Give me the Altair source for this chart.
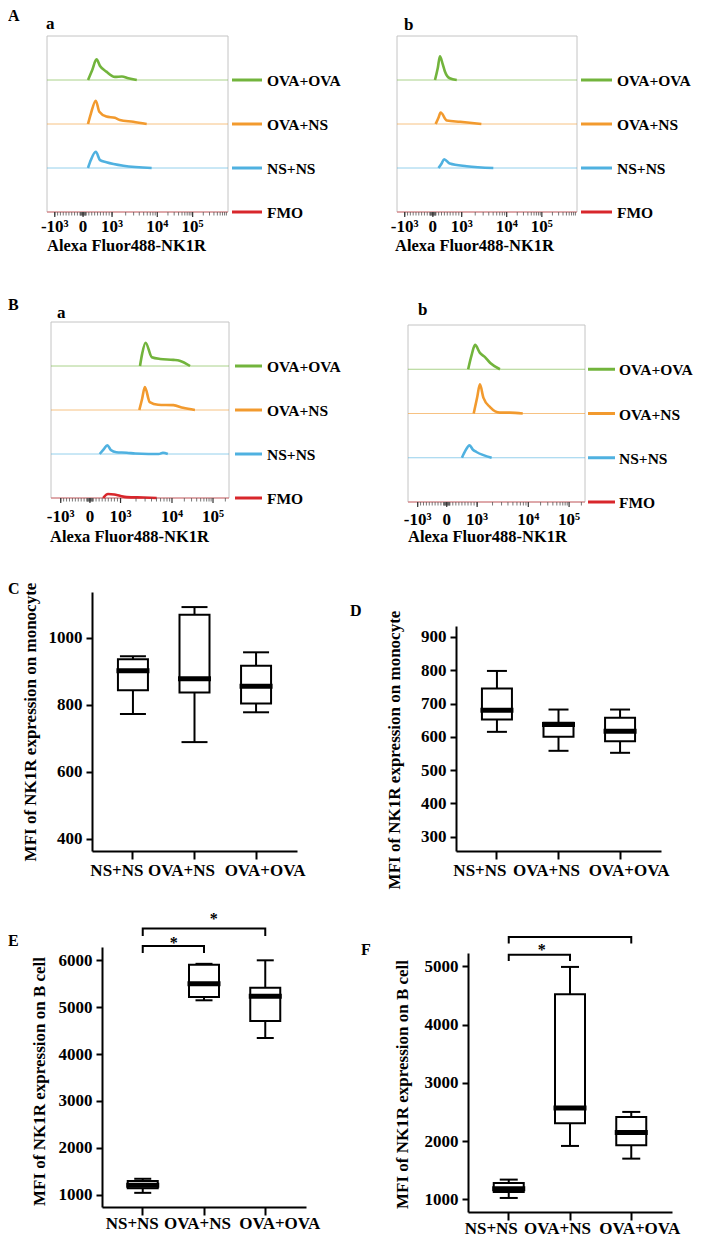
import math
import altair as alt
import pandas as pd

FONT = "Liberation Serif"

# ---------------- data ----------------
GROUPS = ["NS+NS", "OVA+NS", "OVA+OVA"]
HIST_GROUPS = ["OVA+OVA", "OVA+NS", "NS+NS", "FMO"]
HIST_COLORS = ["#72b43c", "#f29a2e", "#4fb1e0", "#d8262b"]
HIST_OFFSETS = [300, 200, 100, 0]

TICK_LABELS = ["-10³", "0", "10³", "10⁴", "10⁵"]
A_TICK_POS = [11, 51, 92, 156, 206]
B_TICK_POS = [14, 56, 100, 174, 233]
MINOR_VALUES = (list(range(-1000, 1001, 100)) + list(range(-100, 101, 20))
                + [m * 10 ** e for e in (3, 4, 5) for m in range(2, 10)])

# histogram curves (channel, count above the row baseline)
AA_OVAOVA_X = [58, 64, 70, 75, 84, 96, 106, 115, 127]
AA_OVAOVA_H = [0, 23, 47, 32, 19, 7, 8, 4, 0]
AA_OVANS_X = [58, 62, 69, 74, 84, 96, 103, 122, 141]
AA_OVANS_H = [0, 23, 53, 28, 17, 14, 9, 5, 0]
AA_NSNS_X = [58, 62, 69, 75, 84, 108, 148]
AA_NSNS_H = [0, 18, 37, 18, 13, 5, 0]

AB_OVAOVA_X = [54, 58, 61, 65, 68, 75, 85]
AB_OVAOVA_H = [0, 27, 54, 36, 20, 4, 0]
AB_OVANS_X = [55, 59, 62, 71, 90, 120]
AB_OVANS_H = [0, 14, 26, 8, 5, 0]
AB_NSNS_X = [59, 63, 67, 75, 99, 137]
AB_NSNS_H = [0, 9, 20, 10, 4, 0]

BA_OVAOVA_X = [128, 131, 136, 145, 157, 176, 185, 200]
BA_OVAOVA_H = [0, 27, 53, 20, 16, 14, 12, 0]
BA_OVANS_X = [127, 131, 135, 142, 154, 176, 190, 207]
BA_OVANS_H = [0, 25, 52, 18, 12, 11, 5, 0]
BA_NSNS_X = [70, 76, 81, 86, 94, 109, 121, 140, 155, 161, 168]
BA_NSNS_H = [0, 11, 20, 9, 4, 3, 1, 0, 0, 3, 0]
BA_FMO_X = [75, 82, 91, 99, 109, 133, 152]
BA_FMO_H = [0, 9, 8, 5, 2, 1, 0]

BB_OVAOVA_X = [87, 92, 97, 104, 111, 119, 133]
BB_OVAOVA_H = [0, 32, 55, 37, 28, 14, 0]
BB_OVANS_X = [95, 100, 104, 109, 119, 133, 147, 166]
BB_OVANS_H = [0, 36, 66, 36, 14, 2, 2, 0]
BB_NSNS_X = [78, 83, 89, 94, 99, 121]
BB_NSNS_H = [0, 16, 28, 18, 13, 0]

# box plot summaries per group
C_MIN = [772, 688, 777]
C_Q1 = [843, 836, 803]
C_MED = [901, 877, 855]
C_Q3 = [935, 1068, 916]
C_MAX = [944, 1091, 956]

D_MIN = [615, 558, 552]
D_Q1 = [652, 600, 587]
D_MED = [680, 637, 617]
D_Q3 = [745, 642, 657]
D_MAX = [798, 682, 682]

E_MIN = [1040, 5147, 4343]
E_Q1 = [1140, 5218, 4706]
E_MED = [1200, 5502, 5232]
E_Q3 = [1290, 5908, 5417]
E_MAX = [1340, 5925, 6000]

F_MIN = [1023, 1916, 1698]
F_Q1 = [1126, 2305, 1927]
F_MED = [1183, 2568, 2145]
F_Q3 = [1281, 4519, 2414]
F_MAX = [1338, 4989, 2500]

# significance brackets (from, to, top level, leg end) and stars (level, x shift)
E_BRACKETS = [("NS+NS", "OVA+NS", 6306, 6156), ("NS+NS", "OVA+OVA", 6676, 6519)]
E_STARS = [(6420, 31), (6917, 71)]
F_BRACKETS = [("NS+NS", "OVA+NS", 5200, 5092), ("NS+NS", "OVA+OVA", 5504, 5389)]
F_STARS = [(5320, 33)]


# ---------------- helpers ----------------
def biex_positions(values, P):
    out = []
    for v in values:
        if v <= 0:
            p = P[1] + (v / 1000.0) * (P[1] - P[0])
        elif v <= 1000:
            p = P[1] + (v / 1000.0) * (P[2] - P[1])
        else:
            k = math.log10(v)
            e = int(math.floor(k + 1e-9))
            frac = k - e
            i = e - 1
            if i + 1 < len(P):
                p = P[i] + frac * (P[i + 1] - P[i])
            else:
                p = P[-1] + (k - 5) * (P[-1] - P[-2])
        out.append(p)
    return out


def label_layer(text, x, y, size, baseline="alphabetic", align="left", angle=0):
    kw = dict(align=align, baseline=baseline, font=FONT, fontSize=size,
              fontWeight="bold", color="black")
    if angle:
        kw["angle"] = angle
    return alt.Chart(alt.Data(values=[{"t": text}])).mark_text(**kw).encode(
        x=alt.value(x), y=alt.value(y), text="t:N")


def hist_panel(cw, ch, x0, y0, w, h, curves, tick_pos, label_dy, title_xy, leg,
               leg_font, letters):
    xs = alt.Scale(domain=[0, 256], range=[x0, x0 + w], nice=False, zero=False)
    ys = alt.Scale(domain=[0, 400], range=[y0 + h, y0], nice=False, zero=False)
    cs = alt.Scale(domain=HIST_GROUPS, range=HIST_COLORS)
    C = alt.Color("g:N", scale=cs, legend=None)
    Yoff = alt.Y("off:Q", scale=ys, axis=None)
    gdf = pd.DataFrame({"g": HIST_GROUPS, "off": HIST_OFFSETS,
                        "a": [0] * 4, "b": [256] * 4})
    layers = []
    # frame
    layers.append(alt.Chart(pd.DataFrame({"a": [0], "b": [256], "c": [0], "d": [400]}))
                  .mark_rect(fillOpacity=0, stroke="#c4c4c4", strokeWidth=1)
                  .encode(x=alt.X("a:Q", scale=xs, axis=None), x2="b:Q",
                          y=alt.Y("c:Q", scale=ys, axis=None), y2="d:Q"))
    # baselines
    layers.append(alt.Chart(gdf).mark_rule(strokeWidth=1, opacity=0.6).encode(
        y=Yoff, x=alt.X("a:Q", scale=xs, axis=None), x2="b:Q", color=C))
    rows = []
    for g, X, H in curves:
        off = HIST_OFFSETS[HIST_GROUPS.index(g)]
        for i, (xv, hv) in enumerate(zip(X, H)):
            rows.append({"g": g, "x": xv, "y": off + hv, "i": i})
    layers.append(alt.Chart(pd.DataFrame(rows)).mark_line(
        strokeWidth=2.6, interpolate="monotone", strokeJoin="round").encode(
        x=alt.X("x:Q", scale=xs, axis=None), y=alt.Y("y:Q", scale=ys, axis=None),
        color=C, detail="g:N", order="i:Q"))
    # legend
    right = x0 + w
    layers.append(alt.Chart(gdf).mark_rule(strokeWidth=3).encode(
        y=Yoff, x=alt.value(right + leg[0]), x2=alt.value(right + leg[1]), color=C))
    layers.append(alt.Chart(gdf).mark_text(
        align="left", baseline="middle", dy=1, font=FONT, fontSize=leg_font,
        fontWeight="bold", color="black").encode(
        y=Yoff, x=alt.value(right + leg[2]), text="g:N"))
    # ticks and labels
    bottom = y0 + h
    minor = [p for p in biex_positions(MINOR_VALUES, tick_pos) if 0 < p < 256]
    layers.append(alt.Chart(pd.DataFrame({"p": minor})).mark_rule(
        color="#555", strokeWidth=0.8).encode(
        x=alt.X("p:Q", scale=xs, axis=None), y=alt.value(bottom), y2=alt.value(bottom + 3.5)))
    mdf = pd.DataFrame({"p": tick_pos, "t": TICK_LABELS})
    layers.append(alt.Chart(mdf).mark_rule(color="#333", strokeWidth=1.2).encode(
        x=alt.X("p:Q", scale=xs, axis=None), y=alt.value(bottom), y2=alt.value(bottom + 5)))
    layers.append(alt.Chart(mdf).mark_text(
        align="center", baseline="alphabetic", font=FONT, fontSize=17,
        fontWeight="bold", color="black").encode(
        x=alt.X("p:Q", scale=xs, axis=None), y=alt.value(bottom + label_dy), text="t:N"))
    layers.append(label_layer("Alexa Fluor488-NK1R", title_xy[0], title_xy[1], 16.5))
    for (t, lx, ly, size, bl) in letters:
        layers.append(label_layer(t, lx, ly, size, bl))
    return alt.layer(*layers).properties(width=cw, height=ch)


def box_panel(cw, ch, x0, y0, w, h, ydom, yticks, ytitle, mins, q1s, meds, q3s, maxs,
              cap, title_xy, ldx, label_dy, letter, brackets=(), stars=()):
    df = pd.DataFrame({"g": GROUPS, "mn": mins, "q1": q1s, "med": meds,
                       "q3": q3s, "mx": maxs})
    xsc = alt.Scale(domain=GROUPS, range=[x0, x0 + w], paddingInner=0, paddingOuter=0.165)
    xax = alt.Axis(labels=False, title=None, tickSize=8, tickWidth=2, tickColor="black",
                   domainColor="black", domainWidth=2, grid=False,
                   offset=(y0 + h) - ch)
    ysc = alt.Scale(domain=ydom, range=[y0 + h, y0], nice=False, zero=False)
    yax = alt.Axis(values=yticks, format="d", title=None, grid=False, tickSize=6,
                   tickWidth=2, tickColor="black", domainColor="black", domainWidth=2,
                   labelFont=FONT, labelFontSize=17, labelFontWeight="bold",
                   labelColor="black", labelPadding=4, offset=-x0)
    X = alt.X("g:N", scale=xsc, axis=xax, sort=GROUPS)

    def Y(f):
        return alt.Y(f + ":Q", scale=ysc, axis=yax)

    base = alt.Chart(df)
    layers = [
        base.mark_rule(color="black", strokeWidth=2, opacity=1).encode(
            x=X, y=Y("mn"), y2=alt.Y2("mx")),
        base.mark_tick(size=cap, thickness=2, color="black", opacity=1).encode(x=X, y=Y("mn")),
        base.mark_tick(size=cap, thickness=2, color="black", opacity=1).encode(x=X, y=Y("mx")),
        base.mark_bar(size=30, fill="white", stroke="black", strokeWidth=2, opacity=1).encode(
            x=X, y=Y("q1"), y2=alt.Y2("q3")),
        base.mark_tick(size=33, thickness=5, color="black", opacity=1).encode(x=X, y=Y("med")),
    ]
    for g, d in zip(GROUPS, ldx):
        layers.append(alt.Chart(pd.DataFrame({"g": [g]})).mark_text(
            dx=d, align="center", baseline="alphabetic", font=FONT, fontSize=17,
            fontWeight="bold", color="black").encode(
            x=X, y=alt.value(y0 + h + label_dy), text="g:N"))
    if brackets:
        rows = []
        for k, (g1, g2, hi, lo) in enumerate(brackets):
            for j, (g, v) in enumerate([(g1, lo), (g1, hi), (g2, hi), (g2, lo)]):
                rows.append({"b": k, "g": g, "v": v, "o": j})
        layers.append(alt.Chart(pd.DataFrame(rows)).mark_line(
            color="black", strokeWidth=2).encode(
            x=X, y=Y("v"), detail="b:N", order="o:Q"))
    for (v, d) in stars:
        layers.append(alt.Chart(pd.DataFrame({"g": ["NS+NS"], "v": [v]})).mark_text(
            text="*", dx=d, dy=2, align="center", baseline="middle", font=FONT,
            fontSize=16, fontWeight="bold", color="black").encode(x=X, y=Y("v")))
    layers.append(label_layer(ytitle, title_xy[0], title_xy[1], 17,
                              baseline="middle", align="center", angle=270))
    layers.append(label_layer(letter[0], letter[1], letter[2], 16))
    return alt.layer(*layers).properties(width=cw, height=ch)


# ---------------- panels (cell-relative geometry) ----------------
LW, RW = 389, 300

Aa = hist_panel(LW, 250, 39, 28, 181, 176,
                [("OVA+OVA", AA_OVAOVA_X, AA_OVAOVA_H),
                 ("OVA+NS", AA_OVANS_X, AA_OVANS_H),
                 ("NS+NS", AA_NSNS_X, AA_NSNS_H)],
                A_TICK_POS, 20, (39, 243), (4, 34, 39), 15.5,
                [("A", 0, 0, 16, "top"), ("a", 38, 21.3, 17, "alphabetic")])
Ab = hist_panel(RW, 250, 0, 28, 180, 176,
                [("OVA+OVA", AB_OVAOVA_X, AB_OVAOVA_H),
                 ("OVA+NS", AB_OVANS_X, AB_OVANS_H),
                 ("NS+NS", AB_NSNS_X, AB_NSNS_H)],
                A_TICK_POS, 20, (-2, 243), (4, 35, 40), 15.5,
                [("b", 7, 22, 17, "alphabetic")])
Ba = hist_panel(LW, 290, 43, 64, 178, 176,
                [("OVA+OVA", BA_OVAOVA_X, BA_OVAOVA_H),
                 ("OVA+NS", BA_OVANS_X, BA_OVANS_H),
                 ("NS+NS", BA_NSNS_X, BA_NSNS_H),
                 ("FMO", BA_FMO_X, BA_FMO_H)],
                B_TICK_POS, 24, (42, 283.5), (6, 33, 38), 15.5,
                [("B", 0, 52, 16, "alphabetic"), ("a", 49, 60, 17, "alphabetic")])
Bb = hist_panel(RW, 290, 11, 67, 177, 177,
                [("OVA+OVA", BB_OVAOVA_X, BB_OVAOVA_H),
                 ("OVA+NS", BB_OVANS_X, BB_OVANS_H),
                 ("NS+NS", BB_NSNS_X, BB_NSNS_H)],
                B_TICK_POS, 23, (11, 284), (3, 30, 34), 15.5,
                [("b", 21, 57, 17, "alphabetic")])

Cp = box_panel(LW, 303, 84, 44, 205, 259, [363, 1136], [400, 600, 800, 1000],
               "MFI of NK1R expression on monocyte",
               C_MIN, C_Q1, C_MED, C_Q3, C_MAX, 26, (23, 174), [-16, -13, 9], 25,
               ("C", 0, 46))
Dp = box_panel(RW, 303, 59, 78, 205, 225, [257, 933], [300, 400, 500, 600, 700, 800, 900],
               "MFI of NK1R expression on monocyte",
               D_MIN, D_Q1, D_MED, D_Q3, D_MAX, 20, (-2.5, 202), [-17, -12, 9], 25,
               ("D", -47, 68))
Ep = box_panel(LW, 356, 94, 96, 204, 260, [738, 6284], [1000, 2000, 3000, 4000, 5000, 6000],
               "MFI of NK1R expression on B cell",
               E_MIN, E_Q1, E_MED, E_Q3, E_MAX, 17, (31.5, 230.5), [-10.5, -6.5, 14.5], 22,
               ("E", 0, 95), E_BRACKETS, E_STARS)
Fp = box_panel(RW, 361, 71, 102, 204, 259, [782, 5228], [1000, 2000, 3000, 4000, 5000],
               "MFI of NK1R expression on B cell",
               F_MIN, F_Q1, F_MED, F_Q3, F_MAX, 18, (6, 233.5), [-17.5, -12.5, 8.5], 22,
               ("F", -36, 104), F_BRACKETS, F_STARS)

chart = alt.concat(Aa, Ab, Ba, Bb, Cp, Dp, Ep, Fp, columns=2, align="each",
                   bounds="flush", spacing=0).properties(
    padding=0, background="white").configure_view(stroke=None)

chart.save("out.html", embed_options={"renderer": "svg", "actions": False})
